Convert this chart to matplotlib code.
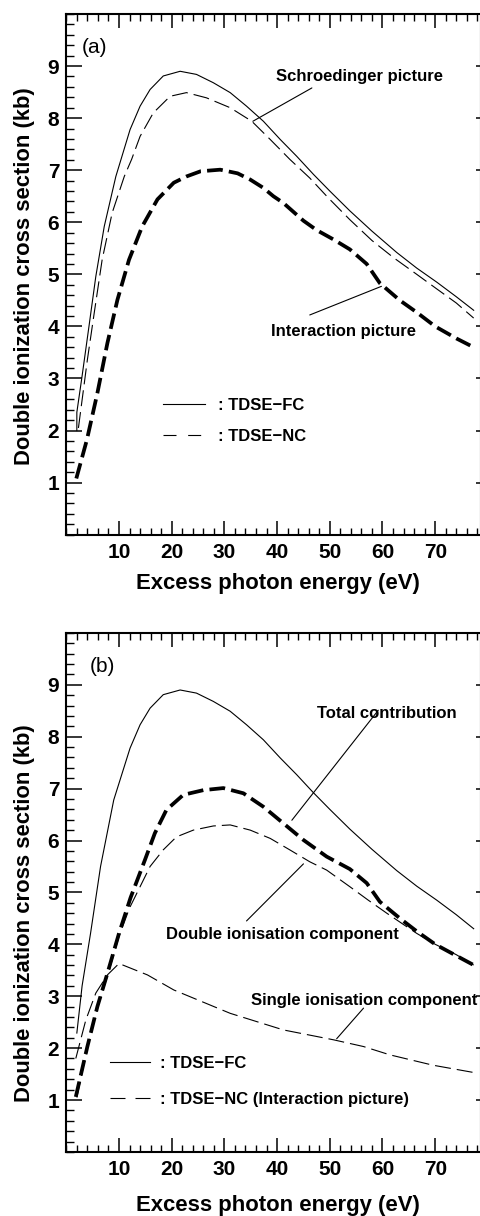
import matplotlib
matplotlib.use('Agg')
import matplotlib.pyplot as plt
from matplotlib.ticker import MultipleLocator, NullLocator
from matplotlib.lines import Line2D

plt.rcParams['font.family'] = ['Liberation Sans', 'DejaVu Sans']

# ---------------- data ----------------
# Panel (a)
fc_a_x = [2.0, 2.0, 3.0, 4.3, 5.6, 7.2, 9.4, 12.1, 14.0, 15.9, 18.4, 21.6, 24.7, 27.9,
          31.1, 34.2, 37.4, 40.6, 43.7, 46.9, 50.0, 53.8, 58.0, 62.7, 66.5, 70.3, 74.0, 77.3]
fc_a_y = [2.0, 2.35, 3.05, 4.0, 4.96, 5.92, 6.88, 7.78, 8.23, 8.55, 8.81, 8.90, 8.84, 8.68,
          8.49, 8.23, 7.94, 7.59, 7.27, 6.92, 6.60, 6.22, 5.83, 5.42, 5.12, 4.85, 4.57, 4.31]

nc_schr_x = [2.3, 4.0, 5.3, 6.8, 8.7, 11.0, 12.4, 14.0, 16.5, 19.7, 22.8, 26.6, 31.1,
             35.2, 38.7, 42.4, 46.2, 49.7, 53.8, 58.0, 62.1, 66.5, 70.3, 74.0, 77.3]
nc_schr_y = [2.05, 3.36, 4.26, 5.28, 6.18, 6.88, 7.21, 7.65, 8.10, 8.42, 8.49, 8.39, 8.20,
             7.94, 7.59, 7.21, 6.85, 6.47, 6.05, 5.65, 5.32, 5.0, 4.72, 4.45, 4.16]

nc_int_a_x = [1.9, 3.9, 5.9, 7.8, 9.7, 11.9, 14.4, 17.3, 20.4, 22.8, 25.5, 29.2, 32.5,
              34.9, 37.4, 39.3, 41.2, 45.0, 47.5, 50.7, 53.8, 57.0, 59.5, 63.3, 66.5,
              70.0, 74.0, 77.3]
nc_int_a_y = [1.08, 1.82, 2.72, 3.68, 4.51, 5.28, 5.92, 6.44, 6.76, 6.88, 6.98, 7.01, 6.94,
              6.82, 6.66, 6.5, 6.37, 6.03, 5.85, 5.67, 5.48, 5.2, 4.83, 4.5, 4.27,
              4.0, 3.77, 3.6]

# Panel (b)
fc_b_x = [2.0, 3.0, 4.6, 6.5, 9.0, 12.1, 14.0, 15.9, 18.4, 21.6, 24.7, 27.9,
          31.1, 34.2, 37.4, 40.6, 43.7, 46.9, 50.0, 53.8, 58.0, 62.7, 66.5, 70.3, 74.0, 77.3]
fc_b_y = [2.29, 3.2, 4.21, 5.5, 6.78, 7.78, 8.23, 8.55, 8.81, 8.90, 8.84, 8.68,
          8.49, 8.23, 7.94, 7.59, 7.27, 6.92, 6.60, 6.22, 5.83, 5.42, 5.12, 4.85, 4.57, 4.3]

total_x = [1.8, 4.0, 5.9, 7.8, 10.0, 12.2, 14.9, 16.8, 19.0, 22.2, 26.0, 29.8, 33.6,
           37.4, 41.2, 45.0, 49.4, 53.8, 57.0, 59.5, 63.3, 66.5, 70.0, 74.0, 77.3]
total_y = [1.06, 2.03, 2.80, 3.44, 4.21, 4.9, 5.62, 6.14, 6.59, 6.88, 6.97, 7.01, 6.91,
           6.65, 6.33, 6.01, 5.69, 5.45, 5.18, 4.82, 4.5, 4.25, 4.0, 3.78, 3.6]

double_x = [2.0, 4.0, 6.0, 8.0, 10.0, 12.0, 14.0, 15.9, 18.4, 20.9, 24.1, 27.9, 31.1,
            34.9, 38.7, 42.4, 46.2, 49.4, 53.8, 57.3, 60.8, 64.0, 66.5, 70.0, 74.0, 77.3]
double_y = [1.05, 2.0, 2.8, 3.45, 4.15, 4.7, 5.11, 5.50, 5.82, 6.07, 6.20, 6.28, 6.30,
            6.20, 6.04, 5.82, 5.59, 5.43, 5.11, 4.85, 4.6, 4.38, 4.21, 4.0, 3.8, 3.6]

single_x = [1.8, 3.7, 5.6, 7.8, 10.0, 15.4, 20.4, 28.0, 31.1, 41.2, 50.7, 56.4,
            61.4, 69.6, 77.3]
single_y = [1.80, 2.54, 3.06, 3.41, 3.63, 3.41, 3.12, 2.80, 2.67, 2.35, 2.16, 2.03,
            1.87, 1.67, 1.53]

x_ticks = [10, 20, 30, 40, 50, 60, 70]
y_ticks = [1, 2, 3, 4, 5, 6, 7, 8, 9]
x_label = 'Excess photon energy (eV)'
y_label = 'Double ionization cross section (kb)'

# annotation texts: (text, text x, text baseline y, leader start, leader end)
notes_a = [
    ('Schroedinger picture', 55.7, 8.72, (46.6, 8.58), (35.4, 7.94)),
    ('Interaction picture', 52.6, 3.81, (46.2, 4.22), (59.8, 4.77)),
]
notes_b = [
    ('Total contribution', 60.8, 8.36, (59.2, 8.51), (42.8, 6.39)),
    ('Double ionisation component', 41.0, 4.10, (34.2, 4.45), (45.0, 5.55)),
    ('Single ionisation component', 56.5, 2.83, (56.4, 2.77), (51.3, 2.18)),
]

# ---------------- figure ----------------
W, H = 480, 1216
fig = plt.figure(figsize=(W / 100, H / 100), dpi=100)
LEFT_PX, RIGHT_PX = 66.3, 481.0
X_MAX = (RIGHT_PX - LEFT_PX) / 5.27


def make_ax(top_px, bottom_px):
    return fig.add_axes([LEFT_PX / W, 1 - bottom_px / H,
                         (RIGHT_PX - LEFT_PX) / W, (bottom_px - top_px) / H])


def style(ax, xlab_y, ylab_y):
    ax.set_xlim(0, X_MAX)
    ax.set_ylim(0, 10)
    for s in ax.spines.values():
        s.set_linewidth(1.5)
    ax.set_xticks(x_ticks)
    ax.set_yticks(y_ticks)
    ax.xaxis.set_minor_locator(MultipleLocator(2))
    ax.yaxis.set_minor_locator(MultipleLocator(0.2))
    ax.tick_params(axis='x', which='major', direction='in', length=10, width=1.1,
                   top=True, bottom=True, labelsize=15, pad=6)
    ax.tick_params(axis='x', which='minor', direction='in', length=5.3, width=1.0,
                   top=True, bottom=True)
    ax.tick_params(axis='y', which='major', direction='in', length=11.5, width=1.1,
                   left=True, right=False, labelsize=15, pad=5)
    ax.tick_params(axis='y', which='minor', direction='in', length=5.8, width=1.0,
                   left=True, right=False)
    for lab in ax.get_xticklabels() + ax.get_yticklabels():
        lab.set_fontweight('bold')
    sec = ax.secondary_yaxis('right')
    sec.set_yticks(y_ticks)
    sec.yaxis.set_minor_locator(NullLocator())
    sec.tick_params(direction='in', length=3.6, width=1.1, labelright=False)
    sec.spines['right'].set_linewidth(1.5)
    ax.set_xlabel(x_label, fontsize=15.9, fontweight='bold')
    ax.xaxis.set_label_coords(0.51, xlab_y)
    ax.xaxis.label.set_verticalalignment('center')
    ax.set_ylabel(y_label, fontsize=15.8, fontweight='bold')
    ax.yaxis.set_label_coords(-0.0996, ylab_y)
    ax.yaxis.label.set_verticalalignment('center')


THIN = 0.8
THICK = 2.7
thin_dash = (14.4, 5.4)
thick_dash = (4.2, 1.65)


def leaders(ax, notes):
    for txt, tx, ty, p0, p1 in notes:
        ax.text(tx, ty, txt, ha='center', va='baseline', fontsize=12, fontweight='bold')
        ax.annotate('', xy=p1, xytext=p0,
                    arrowprops=dict(arrowstyle='-', lw=THIN, color='k',
                                    shrinkA=0, shrinkB=0))


# ----- panel (a)
ax_a = make_ax(14.0, 534.7)
style(ax_a, -0.094, 0.496)
ax_a.plot(fc_a_x, fc_a_y, color='k', lw=THIN)
ax_a.plot(nc_schr_x, nc_schr_y, color='k', lw=THIN, dashes=thin_dash)
ax_a.plot(nc_int_a_x, nc_int_a_y, color='k', lw=THICK, dashes=thick_dash)
ax_a.text(2.98, 9.26, '(a)', fontsize=15, ha='left', va='baseline')
leaders(ax_a, notes_a)
h_a = [Line2D([], [], color='k', lw=THIN),
       Line2D([], [], color='k', lw=THIN, dashes=(11.7, 10.5))]
ax_a.legend(h_a, [': TDSE\u2212FC', ': TDSE\u2212NC'], loc='center left',
            bbox_to_anchor=(0.2332, 0.2184), frameon=False, borderpad=0,
            borderaxespad=0, handlelength=2.5, handletextpad=0.78,
            labelspacing=0.98, prop=dict(weight='bold', size=12))

# ----- panel (b)
ax_b = make_ax(632.9, 1151.9)
style(ax_b, -0.104, 0.46)
ax_b.plot(fc_b_x, fc_b_y, color='k', lw=THIN)
ax_b.plot(total_x, total_y, color='k', lw=THICK, dashes=thick_dash)
ax_b.plot(double_x, double_y, color='k', lw=THIN, dashes=thin_dash)
ax_b.plot(single_x, single_y, color='k', lw=THIN, dashes=thin_dash)
ax_b.text(4.5, 9.25, '(b)', fontsize=15, ha='left', va='baseline')
leaders(ax_b, notes_b)
h_b = [Line2D([], [], color='k', lw=THIN),
       Line2D([], [], color='k', lw=THIN, dashes=(13.5, 9.0))]
ax_b.legend(h_b, [': TDSE\u2212FC', ': TDSE\u2212NC (Interaction picture)'],
            loc='center left', bbox_to_anchor=(0.1054, 0.1358), frameon=False,
            borderpad=0, borderaxespad=0, handlelength=2.4, handletextpad=0.6,
            labelspacing=1.3, prop=dict(weight='bold', size=12))

fig.savefig('out.png', dpi=100)
